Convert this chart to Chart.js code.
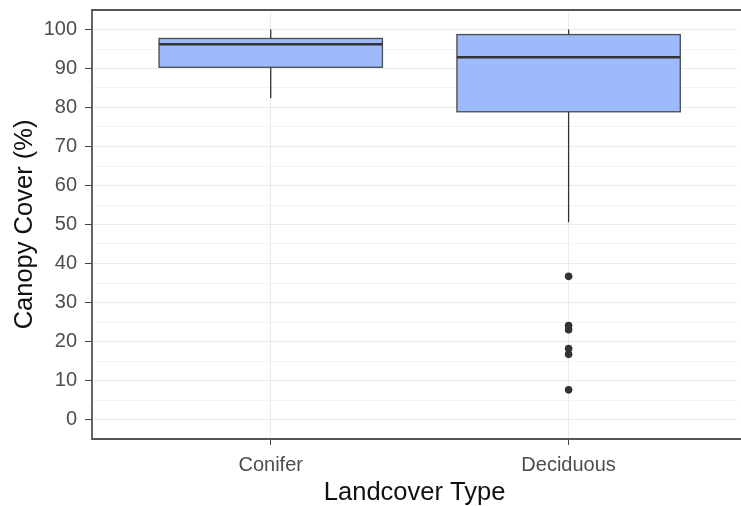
<!DOCTYPE html>
<html>
<head>
<meta charset="utf-8">
<script src="https://cdn.jsdelivr.net/npm/chart.js@4"></script>
<style>
  html, body { margin: 0; padding: 0; background: #fff; overflow: hidden; }
  #wrap { width: 741px; height: 506px; position: relative; }
</style>
</head>
<body>
<div id="wrap"><canvas id="chart"></canvas></div>
<script>
// Data
const categories = ['Conifer', 'Deciduous'];
const whiskerLow = [82.4, 50.6];
const q1 = [90.3, 78.9];
const median = [96.2, 92.9];
const q3 = [97.7, 98.7];
const whiskerHigh = [100, 100];
const outlierCategory = [2, 2, 2, 2, 2, 2];
const outlierValues = [36.7, 24.1, 23.0, 18.2, 16.7, 7.6];
const yTicks = [0, 10, 20, 30, 40, 50, 60, 70, 80, 90, 100];

// Styles
const boxFill = '#9dbafa';
const lineColor = '#333333';
const borderColor = '#555555';
const majorGrid = '#ebebeb';
const minorGrid = '#f3f3f3';
const boxWidth = 0.75;
const tickFont = { family: 'Liberation Sans, Arial', size: 20 };
const titleFont = { family: 'Liberation Sans, Arial', size: 25.5, lineHeight: 1 };

// box + whiskers + panel border, drawn through the scales
const boxPlugin = {
  id: 'boxes',
  beforeDatasetsDraw(chart) {
    const ctx = chart.ctx;
    const xs = chart.scales.x, ys = chart.scales.y;
    ctx.save();
    categories.forEach((c, i) => {
      const cx = xs.getPixelForValue(i + 1);
      const left = xs.getPixelForValue(i + 1 - boxWidth / 2);
      const right = xs.getPixelForValue(i + 1 + boxWidth / 2);
      const yq1 = ys.getPixelForValue(q1[i]);
      const yq3 = ys.getPixelForValue(q3[i]);
      // whiskers
      ctx.strokeStyle = lineColor;
      ctx.lineWidth = 1.3;
      ctx.beginPath();
      ctx.moveTo(cx, yq3);
      ctx.lineTo(cx, ys.getPixelForValue(whiskerHigh[i]));
      ctx.moveTo(cx, yq1);
      ctx.lineTo(cx, ys.getPixelForValue(whiskerLow[i]));
      ctx.stroke();
      // box
      ctx.fillStyle = boxFill;
      ctx.fillRect(left, yq3, right - left, yq1 - yq3);
      ctx.strokeStyle = 'rgba(51,51,51,0.85)';
      ctx.lineWidth = 1.3;
      ctx.strokeRect(left, yq3, right - left, yq1 - yq3);
      // median
      const ym = ys.getPixelForValue(median[i]);
      ctx.strokeStyle = lineColor;
      ctx.lineWidth = 2.6;
      ctx.beginPath();
      ctx.moveTo(left, ym);
      ctx.lineTo(right, ym);
      ctx.stroke();
    });
    ctx.restore();
  },
  afterDraw(chart) {
    const ctx = chart.ctx;
    const a = chart.chartArea;
    ctx.save();
    ctx.strokeStyle = borderColor;
    ctx.lineWidth = 1.8;
    ctx.beginPath();
    ctx.moveTo(a.right + 5, a.top);
    ctx.lineTo(a.left, a.top);
    ctx.lineTo(a.left, a.bottom);
    ctx.lineTo(a.right + 5, a.bottom);
    ctx.stroke();
    ctx.restore();
  }
};

const outlierPoints = outlierValues.map((v, i) => ({ x: outlierCategory[i], y: v }));

new Chart(document.getElementById('chart'), {
  type: 'scatter',
  data: {
    datasets: [{
      data: outlierPoints,
      backgroundColor: lineColor,
      borderColor: lineColor,
      pointRadius: 3.8,
      pointHoverRadius: 3.8,
      borderWidth: 0
    }]
  },
  options: {
    responsive: true,
    maintainAspectRatio: false,
    animation: false,
    events: [],
    layout: { padding: { top: 10, right: 0, left: 0, bottom: 0 } },
    plugins: { legend: { display: false }, tooltip: { enabled: false } },
    scales: {
      x: {
        type: 'linear',
        min: 0.4,
        max: 2.566,
        afterBuildTicks: s => { s.ticks = categories.map((c, i) => ({ value: i + 1 })); },
        afterFit: s => { s.height = 67; s.paddingLeft = 0; s.paddingRight = 0; },
        ticks: {
          callback: v => categories[v - 1] || '',
          color: '#4d4d4d',
          font: tickFont,
          padding: 8,
          maxRotation: 0
        },
        grid: { color: majorGrid, lineWidth: 1, tickLength: 6, tickColor: '#444', drawOnChartArea: true },
        border: { display: false },
        title: {
          display: true,
          text: 'Landcover Type',
          color: '#111',
          font: titleFont,
          padding: { top: 0, bottom: 0 }
        }
      },
      y: {
        min: -5,
        max: 105,
        afterBuildTicks: s => {
          const t = [];
          for (let v = -5; v <= 105; v += 5) t.push({ value: v });
          s.ticks = t;
        },
        afterFit: s => { s.width = 92; s.paddingTop = 0; s.paddingBottom = 0; },
        ticks: {
          autoSkip: false,
          callback: v => (yTicks.includes(v) ? String(v) : ''),
          color: '#4d4d4d',
          font: tickFont,
          padding: 8
        },
        grid: {
          color: c => {
            const v = c.tick ? c.tick.value : 0;
            if (v === -5 || v === 105) return 'rgba(0,0,0,0)';
            return yTicks.includes(v) ? majorGrid : minorGrid;
          },
          tickColor: c => (c.tick && yTicks.includes(c.tick.value) ? '#444' : 'rgba(0,0,0,0)'),
          lineWidth: 1,
          tickLength: 7
        },
        border: { display: false },
        title: {
          display: true,
          text: 'Canopy Cover (%)',
          color: '#111',
          font: titleFont,
          padding: { top: 12, bottom: 0 }
        }
      }
    }
  },
  plugins: [boxPlugin]
});
</script>
</body>
</html>
